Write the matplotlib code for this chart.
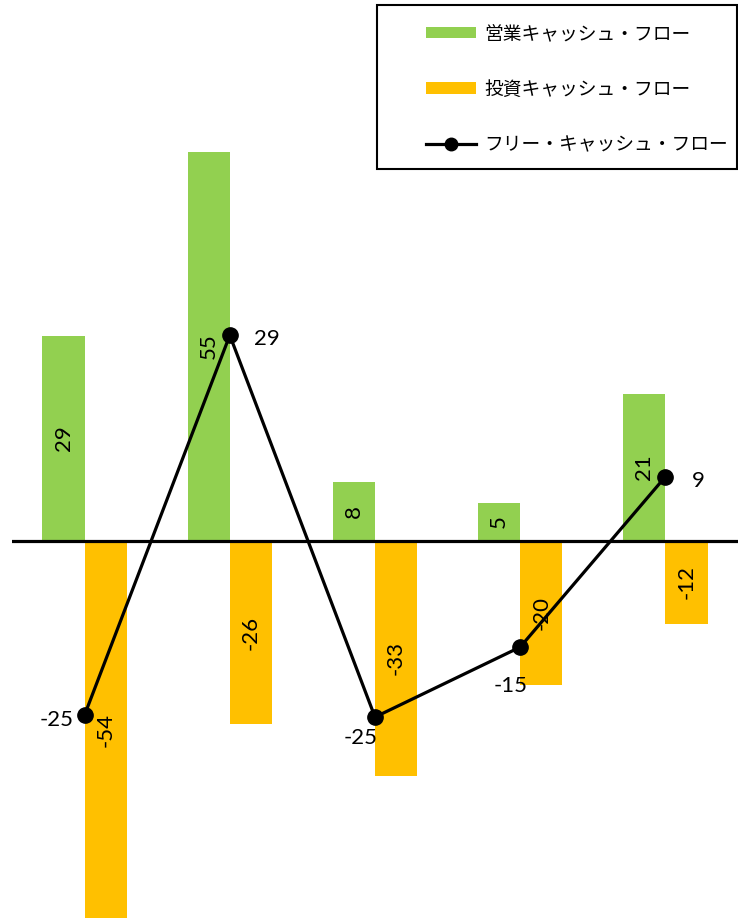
import matplotlib
matplotlib.use("Agg")
import matplotlib.pyplot as plt
import numpy as np
from matplotlib.lines import Line2D
from matplotlib.patches import Patch, Rectangle

# ---- data ----
categories = ["1", "2", "3", "4", "5"]
operating_cf = [29.0, 55.0, 8.3, 5.4, 20.8]
investing_cf = [-53.6, -25.9, -33.2, -20.4, -11.7]
free_cf = [-24.6, 29.1, -24.9, -15.0, 9.1]
series_names = ["営業キャッシュ・フロー", "投資キャッシュ・フロー", "フリー・キャッシュ・フロー"]

GREEN = "#92D050"
ORANGE = "#FFC000"
NUM_FONT = ["Lato", "DejaVu Sans"]
JP_FONT = ["Noto Sans CJK JP", "DejaVu Sans"]
NUM_SIZE = 16

W, H = 738, 919
fig = plt.figure(figsize=(W / 100, H / 100), dpi=100)
ax = fig.add_axes([12 / W, 1 / H, 1 - 12 / W, 1 - 1 / H])

x = np.arange(len(categories))
bw = 0.29
b1 = ax.bar(x - bw / 2, operating_cf, width=bw, color=GREEN, zorder=2)
b2 = ax.bar(x + bw / 2, investing_cf, width=bw, color=ORANGE, zorder=2)

for bars, vals in ((b1, operating_cf), (b2, investing_cf)):
    ax.bar_label(bars, labels=[f"{round(v):d}" for v in vals], label_type="center",
                 rotation=90, fontsize=NUM_SIZE, family=NUM_FONT, color="black")

ax.axhline(0, color="black", lw=2.3, zorder=3)
ax.plot(x, free_cf, color="black", lw=2.3, marker="o", markersize=11, zorder=4)

# label placement for free CF points (pixel offsets, alignment)
fcf_label_pos = [(-11, -5, "right", "center"),
                 (24, -4, "left", "center"),
                 (-14, -21, "center", "center"),
                 (-10, -39, "center", "center"),
                 (26, -4, "left", "center")]
for xi, v, (dx, dy, ha, va) in zip(x, free_cf, fcf_label_pos):
    ax.annotate(f"{round(v):d}", (xi, v), xytext=(dx, dy), textcoords="offset pixels",
                ha=ha, va=va, fontsize=NUM_SIZE, family=NUM_FONT, color="black", zorder=5)

ax.set_xlim(-0.5, len(categories) - 0.5)
ax.set_ylim(-53.32, 76.52)
ax.axis("off")

handles = [Patch(facecolor=GREEN), Patch(facecolor=ORANGE),
           Line2D([], [], color="black", lw=2.3, marker="o", markersize=9)]
fs = 13.5
fpx = fs * 100 / 72
leg = fig.legend(handles, series_names, loc="upper left",
                 bbox_to_anchor=(426 / W, 1 - 23 / H), frameon=False,
                 prop={"family": JP_FONT, "size": fs}, borderpad=0, borderaxespad=0,
                 handlelength=50 / fpx, handleheight=11 / fpx, handletextpad=8 / fpx,
                 labelspacing=1.85)
fig.add_artist(Rectangle((377 / W, 1 - 169 / H), 360 / W, 164 / H,
                         transform=fig.transFigure, fill=False, edgecolor="black", lw=1.5))

fig.savefig("out.png", dpi=100)
